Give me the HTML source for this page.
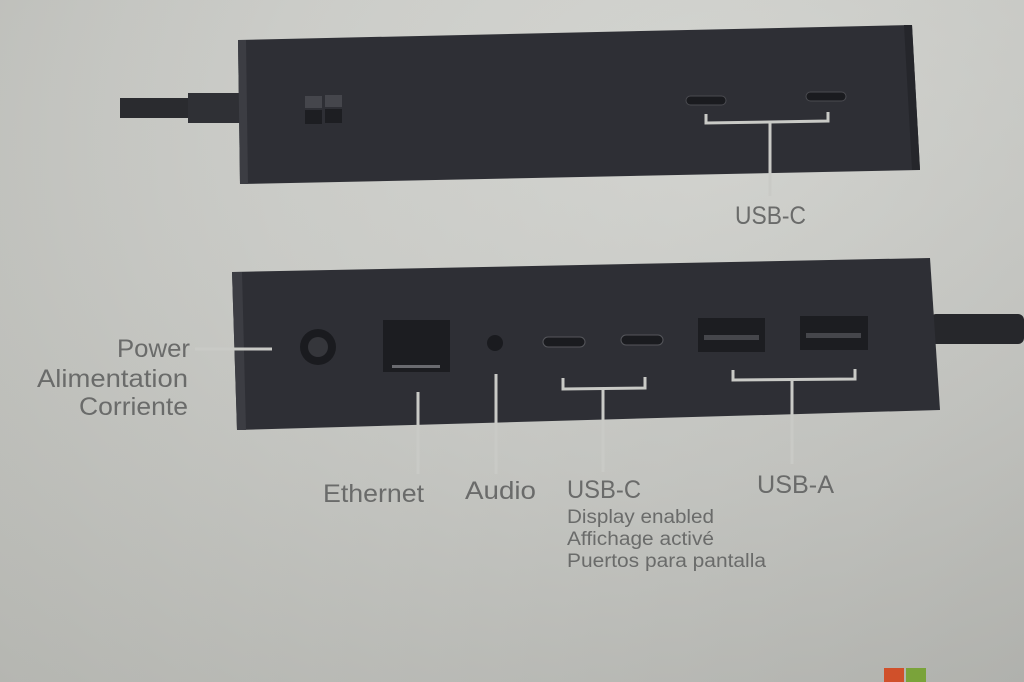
<!DOCTYPE html>
<html><head><meta charset="utf-8"><style>
html,body{margin:0;padding:0;width:1024px;height:682px;overflow:hidden}
body{background:radial-gradient(ellipse at 70% 20%,#d8d9d5 0%,#cbccc8 45%,#b4b5b0 100%)}
svg{display:block}
text{font-family:"Liberation Sans",sans-serif;fill:#6a6b6a}
</style></head><body>
<svg width="1024" height="682" viewBox="0 0 1024 682">
<defs>
<linearGradient id="bg2" x1="0" y1="0" x2="1" y2="1">
<stop offset="0" stop-color="#d2d3ce" stop-opacity="0"/>
<stop offset="1" stop-color="#9fa09c" stop-opacity="0.45"/>
</linearGradient>
</defs>
<rect width="1024" height="682" fill="url(#bg2)"/>
<rect x="120" y="98" width="80" height="20" fill="#2a2b2f"/>
<rect x="188" y="93" width="52" height="30" fill="#2f3035"/>
<polygon points="238,40 912,25 920,170 240,184" fill="#2e2f35"/>
<polygon points="238,40 246,40 248,184 240,184" fill="#3c3d43"/>
<polygon points="904,25 912,25 920,170 912,170" fill="#25262b"/>
<rect x="305" y="96" width="17" height="12" fill="#45464c"/><rect x="325" y="95" width="17" height="12" fill="#45464c"/>
<rect x="305" y="110" width="17" height="14" fill="#1d1e22"/><rect x="325" y="109" width="17" height="14" fill="#1d1e22"/>
<rect x="686" y="96" width="40" height="9" rx="4.5" fill="#1a1b1f" stroke="#4a4b50" stroke-width="1"/>
<rect x="806" y="92" width="40" height="9" rx="4.5" fill="#1a1b1f" stroke="#4a4b50" stroke-width="1"/>
<g stroke="#c9cac6" stroke-width="3" fill="none">
<polyline points="706,114 706,123 828,121 828,112"/>
<line x1="770" y1="122" x2="770" y2="196"/>
</g>
<text x="735" y="224" font-size="25" textLength="71" lengthAdjust="spacingAndGlyphs">USB-C</text>
<rect x="930" y="314" width="94" height="30" rx="6" fill="#26272b"/>
<polygon points="232,272 930,258 940,410 237,430" fill="#2e2f35"/>
<polygon points="232,272 242,272 246,430 237,430" fill="#3c3d43"/>
<circle cx="318" cy="347" r="18" fill="#1a1b1f"/>
<circle cx="318" cy="347" r="10" fill="#35363b"/>
<rect x="383" y="320" width="67" height="52" fill="#1c1d21"/>
<rect x="392" y="365" width="48" height="3" fill="#6a6b70"/>
<circle cx="495" cy="343" r="8" fill="#1a1b1f"/>
<rect x="543" y="337" width="42" height="10" rx="5" fill="#1a1b1f" stroke="#55565b"/>
<rect x="621" y="335" width="42" height="10" rx="5" fill="#1a1b1f" stroke="#55565b"/>
<rect x="698" y="318" width="67" height="34" fill="#1c1d21"/>
<rect x="704" y="335" width="55" height="5" fill="#45464b"/>
<rect x="800" y="316" width="68" height="34" fill="#1c1d21"/>
<rect x="806" y="333" width="55" height="5" fill="#45464b"/>
<g stroke="#c9cac6" stroke-width="3" fill="none">
<line x1="195" y1="349" x2="272" y2="349"/>
<line x1="418" y1="392" x2="418" y2="474"/>
<line x1="496" y1="374" x2="496" y2="474"/>
<polyline points="563,378 563,389 645,388 645,377"/>
<line x1="603" y1="389" x2="603" y2="472"/>
<polyline points="733,370 733,380 855,379 855,369"/>
<line x1="792" y1="380" x2="792" y2="464"/>
</g>
<text x="117" y="357" font-size="25" textLength="73" lengthAdjust="spacingAndGlyphs">Power</text>
<text x="37" y="387" font-size="25" textLength="151" lengthAdjust="spacingAndGlyphs">Alimentation</text>
<text x="79" y="415" font-size="25" textLength="109" lengthAdjust="spacingAndGlyphs">Corriente</text>
<text x="323" y="502" font-size="25" textLength="101" lengthAdjust="spacingAndGlyphs">Ethernet</text>
<text x="465" y="499" font-size="25" textLength="71" lengthAdjust="spacingAndGlyphs">Audio</text>
<text x="567" y="498" font-size="25" textLength="74" lengthAdjust="spacingAndGlyphs">USB-C</text>
<text x="757" y="493" font-size="25" textLength="77" lengthAdjust="spacingAndGlyphs">USB-A</text>
<text x="567" y="523" font-size="19" textLength="147" lengthAdjust="spacingAndGlyphs">Display enabled</text>
<text x="567" y="545" font-size="19" textLength="147" lengthAdjust="spacingAndGlyphs">Affichage activé</text>
<text x="567" y="567" font-size="19" textLength="199" lengthAdjust="spacingAndGlyphs">Puertos para pantalla</text>
<rect x="884" y="668" width="20" height="14" fill="#d0502a"/>
<rect x="906" y="668" width="20" height="14" fill="#7aa33a"/>
</svg>
</body></html>
